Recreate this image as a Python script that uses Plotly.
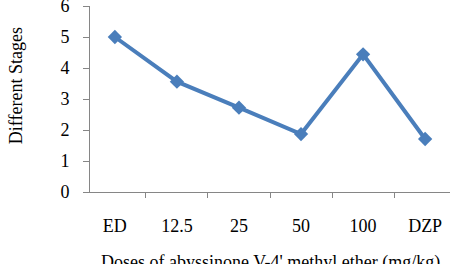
import plotly.graph_objects as go

categories = ["ED", "12.5", "25", "50", "100", "DZP"]
stages = [5.0, 3.56, 2.72, 1.87, 4.44, 1.71]
y_ticks = [0, 1, 2, 3, 4, 5, 6]

x_title = "Doses of abyssinone V-4' methyl ether (mg/kg)"
y_title = "Different Stages"

font_family = "Times New Roman, Liberation Serif, DejaVu Serif, serif"
axis_color = "#868686"
line_color = "#4A7EBB"

fig = go.Figure()
fig.add_trace(go.Scatter(
    x=categories, y=stages, mode="lines+markers",
    line=dict(color=line_color, width=4),
    marker=dict(symbol="diamond", size=11, color=line_color),
    showlegend=False, cliponaxis=False,
))

fig.update_layout(
    width=450, height=264,
    margin=dict(l=90, r=0, t=6, b=72),
    paper_bgcolor="white", plot_bgcolor="white",
    font=dict(family=font_family, size=18, color="black"),
    xaxis=dict(
        type="category", tickson="boundaries", ticks="outside", ticklen=5,
        tickcolor=axis_color, showline=True, linecolor=axis_color, linewidth=1,
        showgrid=False, zeroline=False, ticklabelstandoff=17, automargin=False,
        tickfont=dict(size=18, family=font_family),
    ),
    yaxis=dict(
        range=[0, 6], tickvals=y_ticks, ticks="outside", ticklen=6,
        tickcolor=axis_color, showline=True, linecolor=axis_color, linewidth=1,
        showgrid=False, zeroline=False, ticklabelstandoff=10, automargin=False,
        ticklabeloverflow="allow",
        tickfont=dict(size=18, family=font_family),
    ),
    annotations=[
        dict(text=x_title, xref="paper", yref="paper", x=0.5, y=-0.38,
             xanchor="center", yanchor="middle", showarrow=False,
             font=dict(size=18, family=font_family)),
        dict(text=y_title, xref="paper", yref="paper", x=-0.205, y=0.57,
             xanchor="center", yanchor="middle", showarrow=False, textangle=-90,
             font=dict(size=18, family=font_family)),
    ],
)

fig.write_html("out.html")
